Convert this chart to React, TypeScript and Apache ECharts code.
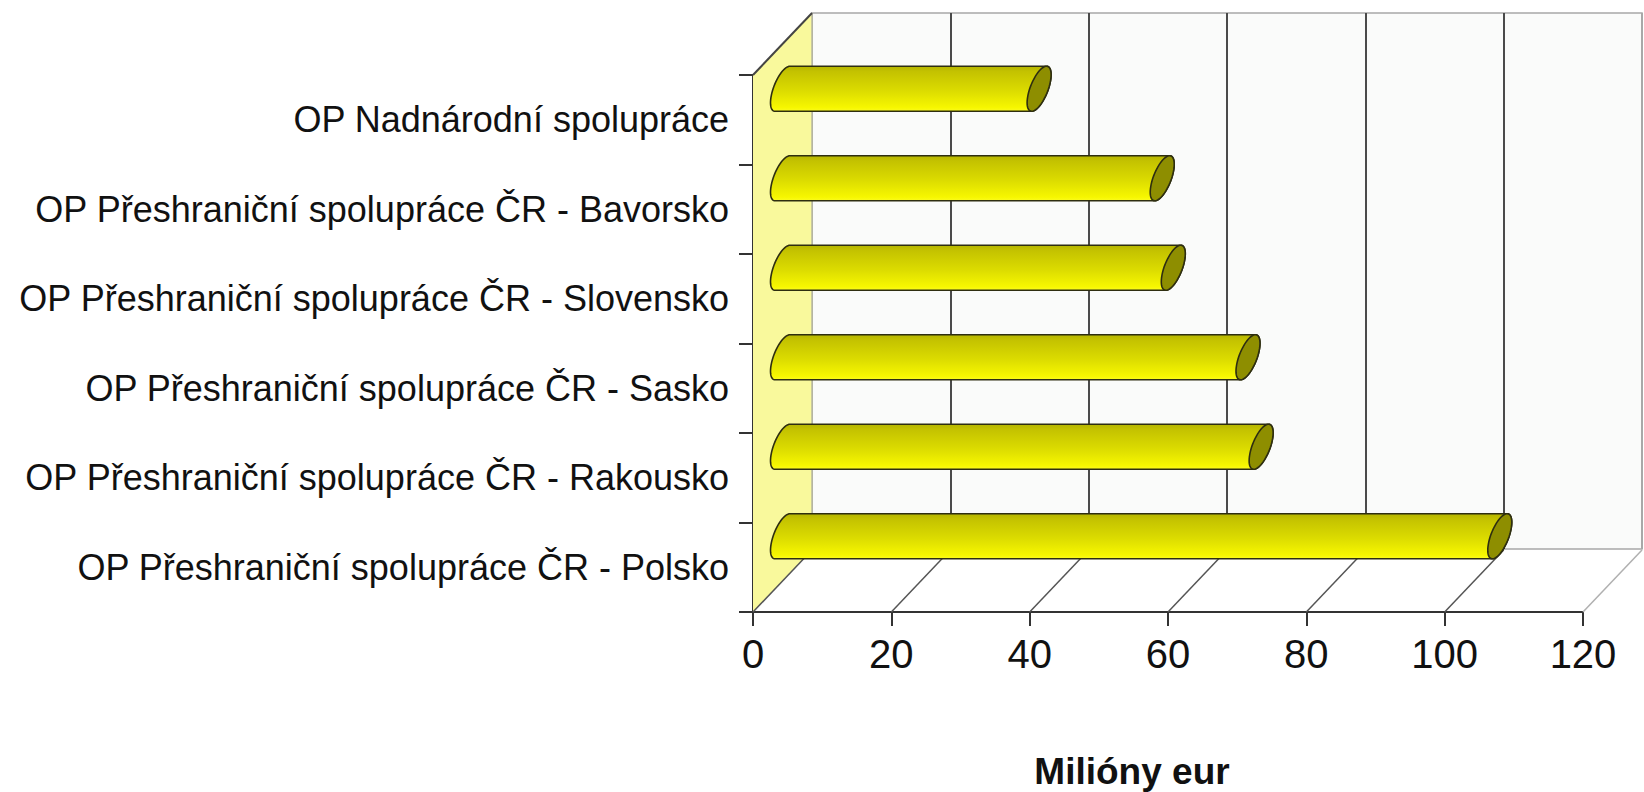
import { useEffect, useRef } from "react";
import * as echarts from "echarts";

const categories = [
  "OP Nadnárodní spolupráce",
  "OP Přeshraniční spolupráce ČR - Bavorsko",
  "OP Přeshraniční spolupráce ČR - Slovensko",
  "OP Přeshraniční spolupráce ČR - Sasko",
  "OP Přeshraniční spolupráce ČR - Rakousko",
  "OP Přeshraniční spolupráce ČR - Polsko",
];
const values = [37.1, 54.9, 56.5, 67.3, 69.2, 103.7];
const xTicks = [0, 20, 40, 60, 80, 100, 120];
const axisTitle = "Milióny eur";

const FONT = '"Liberation Sans", Arial, Helvetica, sans-serif';
const DX = 59;
const DY = 62;

export default function App() {
  const ref = useRef<HTMLDivElement>(null);
  useEffect(() => {
    if (!ref.current) return;
    const chart = echarts.init(ref.current, null, { renderer: "svg" });
    const xMin = xTicks[0];
    const xMax = xTicks[xTicks.length - 1];
    const step = xTicks[1] - xTicks[0];

    const bodyGradient = new echarts.graphic.LinearGradient(0, 0, 0, 1, [
      { offset: 0, color: "#b5b500" },
      { offset: 0.12, color: "#c4c200" },
      { offset: 0.55, color: "#dcdc00" },
      { offset: 0.92, color: "#f7f700" },
      { offset: 1, color: "#fbfb20" },
    ]);

    const option: any = {
      animation: false,
      backgroundColor: "#ffffff",
      textStyle: { fontFamily: FONT },
      grid: [
        { left: 753, top: 75, width: 830, height: 537, containLabel: false },
        {
          left: 812,
          top: 13,
          width: 830,
          height: 536,
          show: true,
          backgroundColor: "#fafbfa",
          borderColor: "#a8a8a8",
          borderWidth: 1.5,
          containLabel: false,
        },
      ],
      xAxis: [
        {
          gridIndex: 0,
          type: "value",
          min: xMin,
          max: xMax,
          interval: step,
          axisLine: { show: true, lineStyle: { color: "#333", width: 2 } },
          axisTick: { show: true, length: 14, lineStyle: { color: "#333", width: 2 } },
          axisLabel: { fontSize: 40, color: "#111", margin: 22, fontFamily: FONT },
          splitLine: { show: false },
        },
        {
          gridIndex: 1,
          type: "value",
          min: xMin,
          max: xMax,
          interval: step,
          axisLine: { show: false },
          axisTick: { show: false },
          axisLabel: { show: false },
          splitLine: {
            show: true,
            lineStyle: {
              color: ["#a8a8a8", "#4a4a4a", "#4a4a4a", "#4a4a4a", "#4a4a4a", "#4a4a4a", "#a8a8a8"],
              width: 2,
            },
          },
        },
      ],
      yAxis: [
        {
          gridIndex: 0,
          type: "category",
          data: categories,
          inverse: true,
          boundaryGap: true,
          axisLine: { show: true, lineStyle: { color: "#333", width: 2 } },
          axisTick: { show: true, length: 14, alignWithLabel: false, lineStyle: { color: "#333", width: 2 } },
          axisLabel: { fontSize: 36, color: "#111", margin: 24, fontFamily: FONT },
          splitLine: { show: false },
        },
        {
          gridIndex: 1,
          type: "value",
          show: false,
          splitLine: { show: false },
        },
      ],
      series: [
        {
          type: "custom",
          name: "walls",
          xAxisIndex: 0,
          yAxisIndex: 0,
          z: 1,
          silent: true,
          data: xTicks.map((v) => [v, 0]),
          renderItem: (params: any, api: any) => {
            const v = api.value(0);
            const cs = params.coordSys;
            const top = cs.y;
            const bottom = cs.y + cs.height;
            const x = api.coord([v, 0])[0];
            if (v === xMin) {
              return {
                type: "group",
                children: [
                  {
                    type: "polygon",
                    shape: {
                      points: [
                        [x, top],
                        [x + DX, top - DY],
                        [x + DX, bottom - DY],
                        [x, bottom],
                      ],
                    },
                    style: { fill: "#f9f99c", stroke: null },
                  },
                  {
                    type: "line",
                    shape: { x1: x + DX, y1: top - DY, x2: x + DX, y2: bottom - DY },
                    style: { stroke: "#b8b8a0", lineWidth: 1.5 },
                  },
                  {
                    type: "line",
                    shape: { x1: x, y1: top, x2: x + DX, y2: top - DY },
                    style: { stroke: "#444", lineWidth: 2 },
                  },
                  {
                    type: "line",
                    shape: { x1: x, y1: bottom, x2: x + DX, y2: bottom - DY },
                    style: { stroke: "#555", lineWidth: 1.5 },
                  },
                ],
              };
            }
            return {
              type: "line",
              shape: { x1: x, y1: bottom, x2: x + DX, y2: bottom - DY },
              style: { stroke: v === xMax ? "#b0b0b0" : "#555", lineWidth: 1.5 },
            };
          },
        },
        {
          type: "custom",
          name: "values",
          xAxisIndex: 0,
          yAxisIndex: 0,
          z: 3,
          data: values.map((v, i) => [v, i]),
          renderItem: (params: any, api: any) => {
            const v = api.value(0);
            const i = api.value(1);
            const p0 = api.coord([0, i]);
            const p1 = api.coord([v, i]);
            const band = api.size([0, 1])[1];
            const R = band * 0.252;
            const A = 12;
            const C = 14;
            const B = Math.sqrt(Math.max(R * R - C * C, 1));
            const cy = p0[1] - DY / 2;
            const lx = p0[0] + DX / 2;
            const rx = p1[0] + DX / 2;
            const t0 = Math.atan2(C, B);
            const pt = (cx: number, t: number) => [
              cx + A * Math.sin(t),
              cy - B * Math.cos(t) - C * Math.sin(t),
            ];
            const N = 32;
            const body: number[][] = [];
            for (let k = 0; k <= N; k++) body.push(pt(rx, t0 + (Math.PI * k) / N));
            for (let k = 0; k <= N; k++) body.push(pt(lx, t0 + Math.PI + (Math.PI * k) / N));
            const cap: number[][] = [];
            for (let k = 0; k < 64; k++) cap.push(pt(rx, (2 * Math.PI * k) / 64));
            return {
              type: "group",
              children: [
                {
                  type: "polygon",
                  shape: { points: body },
                  style: { fill: bodyGradient, stroke: "#2e2e10", lineWidth: 1.6 },
                },
                {
                  type: "polygon",
                  shape: { points: cap },
                  style: { fill: "#8e8e00", stroke: "#2e2e10", lineWidth: 1.6 },
                },
              ],
            };
          },
        },
      ],
      graphic: [
        {
          type: "text",
          x: 1132,
          y: 771,
          style: {
            text: axisTitle,
            font: `bold 37px ${FONT}`,
            fill: "#111",
            textAlign: "center",
            textVerticalAlign: "middle",
          },
        },
      ],
    };
    chart.setOption(option);
    return () => chart.dispose();
  }, []);
  return (
    <div
      ref={ref}
      style={{ position: "fixed", left: 0, top: 0, width: 1644, height: 792, background: "#fff" }}
    />
  );
}
